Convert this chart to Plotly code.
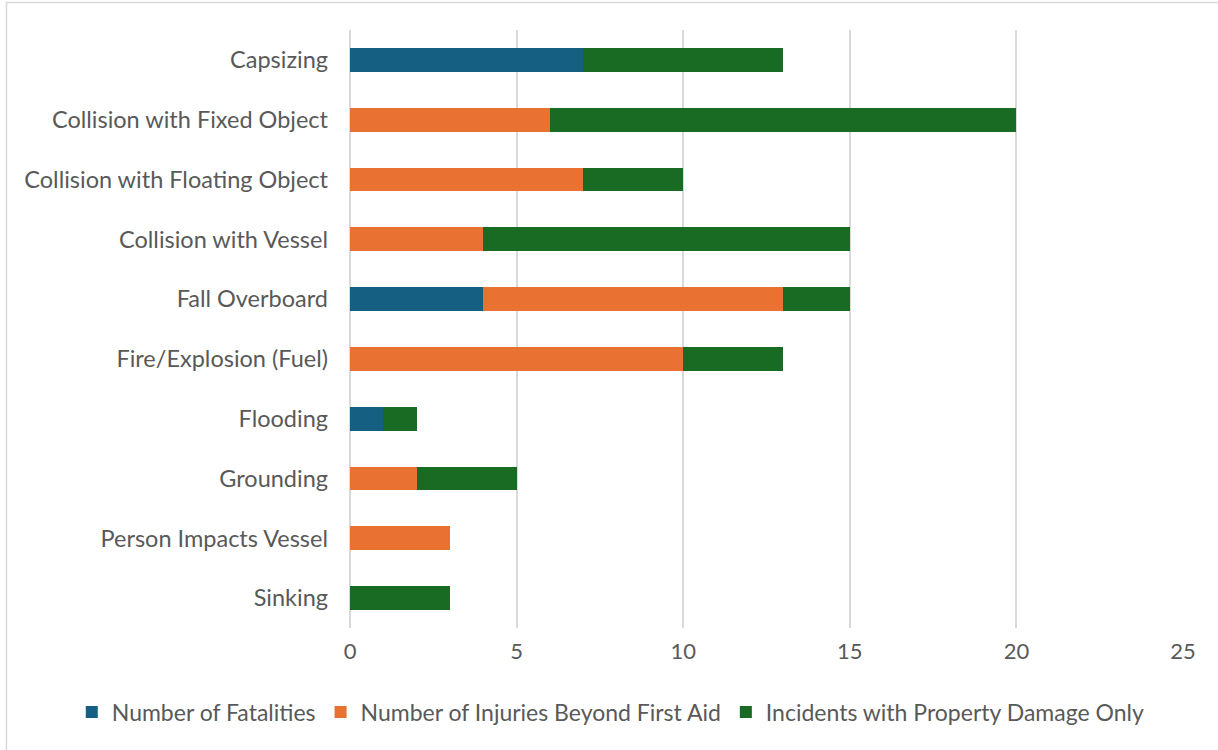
import plotly.graph_objects as go

categories = ["Capsizing", "Collision with Fixed Object", "Collision with Floating Object",
              "Collision with Vessel", "Fall Overboard", "Fire/Explosion (Fuel)", "Flooding",
              "Grounding", "Person Impacts Vessel", "Sinking"]
fatalities = [7, 0, 0, 0, 4, 0, 1, 0, 0, 0]
injuries = [0, 6, 7, 4, 9, 10, 0, 2, 3, 0]
property_only = [6, 14, 3, 11, 2, 3, 1, 3, 0, 3]

series = [
    ("Number of Fatalities", fatalities, "#156082"),
    ("Number of Injuries Beyond First Aid", injuries, "#E97132"),
    ("Incidents with Property Damage Only", property_only, "#196B24"),
]

fig = go.Figure()
for name, vals, color in series:
    fig.add_trace(go.Bar(y=categories, x=vals, name=name, orientation="h",
                         marker=dict(color=color, line=dict(width=0)), width=0.4))

font = "Lato, Noto Sans, sans-serif"
fig.update_layout(
    barmode="stack",
    width=1218, height=750,
    margin=dict(l=350, r=35, t=30, b=122, autoexpand=False),
    plot_bgcolor="white", paper_bgcolor="white",
    font=dict(family=font, size=23, color="#595959"),
    xaxis=dict(range=[0, 25], dtick=5, showgrid=True, gridcolor="#D9D9D9", gridwidth=1.5,
               zeroline=True, zerolinecolor="#D9D9D9", zerolinewidth=1.5,
               tickfont=dict(size=22), ticks="", ticklabelstandoff=8, fixedrange=True),
    yaxis=dict(autorange="reversed", ticks="", ticklabelstandoff=21,
               tickfont=dict(size=23.5), showgrid=False, fixedrange=True),
    legend=dict(orientation="h", x=-0.334, xanchor="left", y=-0.1405, yanchor="middle",
                font=dict(size=23), traceorder="normal", itemwidth=30),
    showlegend=True,
)
fig.add_shape(type="rect", xref="paper", yref="paper", x0=-0.4124, x1=1.2, y0=-0.4, y1=1.046,
              line=dict(color="#D9D9D9", width=1.5), fillcolor="rgba(0,0,0,0)", layer="below")
fig.write_html("out.html", config={"displayModeBar": False},
               post_script="document.body.style.margin='0';")
